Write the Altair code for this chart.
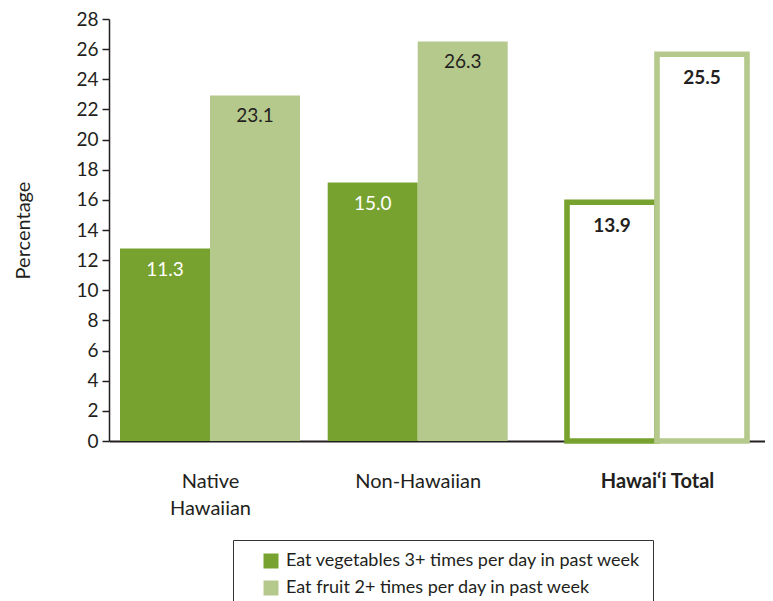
import altair as alt
import pandas as pd

# ---- data ----
groups = ["Native Hawaiian", "Non-Hawaiian", "Hawai‘i Total"]
series = ["Eat vegetables 3+ times per day in past week",
          "Eat fruit 2+ times per day in past week"]
# drawn bar heights (as measured on the axis)
veg_heights = [12.77, 17.15, 15.84]
fruit_heights = [22.93, 26.51, 25.66]
# printed value labels
veg_labels = ["11.3", "15.0", "13.9"]
fruit_labels = ["23.1", "26.3", "25.5"]
y_ticks = [0, 2, 4, 6, 8, 10, 12, 14, 16, 18, 20, 22, 24, 26, 28]

# ---- layout (not data) ----
group_center = {"Native Hawaiian": 1.01, "Non-Hawaiian": 3.087, "Hawai‘i Total": 5.48}
bar_w = 0.9
veg_col, fruit_col, dark = "#78a22f", "#b6c98d", "#231f20"
FONT = "Lato"

rows = []
for i, g in enumerate(groups):
    c = group_center[g]
    rows.append(dict(group=g, series=series[0], value=veg_heights[i], label=veg_labels[i],
                     x0=c - bar_w, x1=c, total=(g == "Hawai‘i Total"), veg=True))
    rows.append(dict(group=g, series=series[1], value=fruit_heights[i], label=fruit_labels[i],
                     x0=c, x1=c + bar_w, total=(g == "Hawai‘i Total"), veg=False))
df = pd.DataFrame(rows)

xscale = alt.Scale(domain=[0, 6.56], nice=False, zero=False)
yscale = alt.Scale(domain=[0, 28], nice=False)

label_expr = ("datum.value < 2 ? ['Native', 'Hawaiian'] : "
              "(datum.value < 4 ? 'Non-Hawaiian' : 'Hawai‘i Total')")

x_axis = alt.Axis(values=list(group_center.values()), labelExpr=label_expr,
                  ticks=False, tickSize=0, grid=False, domainColor=dark, domainWidth=2,
                  labelFontSize=20, labelFont=FONT, labelColor=dark, labelPadding=30,
                  labelLineHeight=27, labelFlush=False, labelOverlap=False, title=None,
                  labelFontWeight={"condition": {"test": "datum.value > 4", "value": "bold"},
                                   "value": "normal"})
y_axis = alt.Axis(values=y_ticks, tickSize=7, tickColor=dark, tickWidth=1.5,
                  domainColor=dark, domainWidth=1.5, grid=False, labelOverlap=False,
                  labelFontSize=19, labelFont=FONT, labelColor=dark, labelPadding=4,
                  title="Percentage", titleFont=FONT, titleFontSize=20,
                  titleFontWeight="normal", titleColor=dark,
                  titleX=-86, titleY=211, titleBaseline="middle", titleAngle=-90)

color_scale = alt.Scale(domain=series, range=[veg_col, fruit_col])

base = alt.Chart(df)

filled = base.transform_filter("!datum.total").mark_rect().encode(
    x=alt.X("x0:Q", scale=xscale, axis=x_axis),
    x2="x1:Q",
    y=alt.Y("value:Q", scale=yscale, axis=y_axis),
    y2=alt.datum(0),
    color=alt.Color("series:N", scale=color_scale, sort=series,
                    legend=alt.Legend(title=None, orient="none", legendX=124, legendY=521,
                                      symbolType="square", symbolSize=225,
                                      symbolStrokeWidth=0, symbolOffset=17,
                                      labelFont=FONT, labelFontSize=18, labelColor=dark,
                                      labelOffset=6, rowPadding=9, padding=12,
                                      strokeColor="#333333", fillColor="white",
                                      labelLimit=500)),
)

outlined = base.transform_filter("datum.total").mark_rect(
    fill="white", strokeWidth=5.6, strokeJoin="miter").encode(
    x=alt.X("x0:Q", scale=xscale, axis=x_axis),
    x2="x1:Q",
    y=alt.Y("value:Q", scale=yscale, axis=y_axis),
    y2=alt.datum(0),
    stroke=alt.Stroke("series:N", scale=color_scale, legend=None),
)

labels = base.transform_filter("!datum.total").transform_calculate(
    xc="(datum.x0 + datum.x1) / 2").mark_text(
    font=FONT, fontSize=19, baseline="middle", align="center", dy=21).encode(
    x=alt.X("xc:Q", scale=xscale, axis=x_axis),
    y=alt.Y("value:Q", scale=yscale, axis=y_axis),
    text="label:N",
    color=alt.condition("datum.veg", alt.value("white"), alt.value(dark)),
)

labels_total = base.transform_filter("datum.total").transform_calculate(
    xc="(datum.x0 + datum.x1) / 2").mark_text(
    font=FONT, fontSize=19, fontWeight="bold", baseline="middle", align="center",
    dy=24, color=dark).encode(
    x=alt.X("xc:Q", scale=xscale, axis=x_axis),
    y=alt.Y("value:Q", scale=yscale, axis=y_axis),
    text="label:N",
)

chart = alt.layer(filled, outlined, labels, labels_total).properties(
    width=656, height=422,
    autosize=alt.AutoSizeParams(type="none"),
    padding={"left": 101, "top": 11, "right": 0, "bottom": 160},
).configure_view(stroke=None).resolve_scale(color="independent", stroke="independent")

chart.save("out.html", embed_options={"renderer": "svg", "actions": False})
